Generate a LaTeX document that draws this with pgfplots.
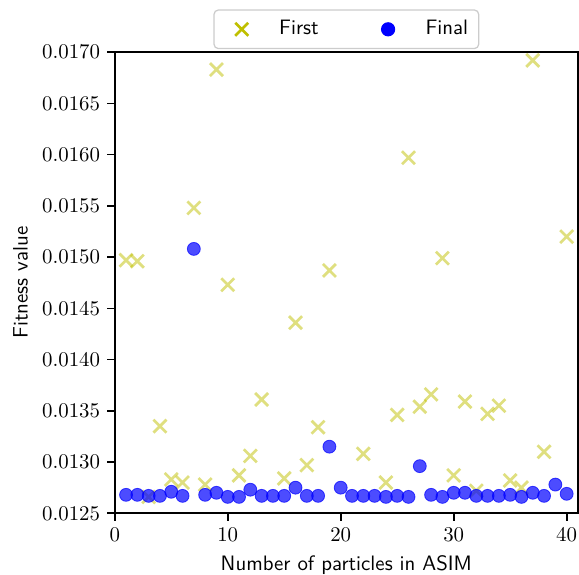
\documentclass[border=0pt]{standalone}
\usepackage{pgfplots}
\pgfplotsset{compat=1.18}

\definecolor{firstc}{rgb}{0.75,0.75,0}
\definecolor{finalc}{rgb}{0,0,1}

\begin{document}
\begin{tikzpicture}
  \begin{axis}[
    scale only axis,
    width=222pt, height=221pt,
    xmin=0, xmax=41,
    ymin=0.0125, ymax=0.0170,
    xtick={0,10,20,30,40},
    ytick={0.0125,0.0130,0.0135,0.0140,0.0145,0.0150,0.0155,0.0160,0.0165,0.0170},
    scaled y ticks=false,
    yticklabel style={/pgf/number format/.cd, fixed, fixed zerofill, precision=4},
    tick pos=left,
    tick align=outside,
    major tick length=3.5pt,
    axis line style={line width=0.8pt},
    every tick/.style={black, line width=0.8pt},
    xlabel={Number of particles in ASIM},
    ylabel={Fitness value},
    label style={font=\sffamily},
    legend columns=2,
    legend style={at={(0.5,1.0065)}, anchor=south, font=\sffamily,
      draw=black!20, line width=0.6pt, rounded corners=2pt, inner ysep=3pt,
      /tikz/every even column/.append style={column sep=21pt}},
    legend image code/.code={%
      \draw[#1,mark repeat=2,mark phase=2] plot coordinates {(0cm,0cm) (0.35cm,0cm) (0.7cm,0cm)};
      \path (0cm,0cm) (0.9cm,0cm);},
    legend image post style={opacity=1},
  ]
    \addplot[only marks, mark=x, mark size=4.4pt, color=firstc, opacity=0.5,
      mark options={line width=1.3pt}] coordinates {
      (1,0.01497) (2,0.01496) (3,0.01266) (4,0.01335) (5,0.01283)
      (6,0.01280) (7,0.01548) (8,0.01278) (9,0.01683) (10,0.01473)
      (11,0.01287) (12,0.01306) (13,0.01361) (15,0.01284) (16,0.01436)
      (17,0.01297) (18,0.01334) (19,0.01487) (22,0.01308) (24,0.01280)
      (25,0.01346) (26,0.01597) (27,0.01354) (28,0.01366) (29,0.01499)
      (30,0.01287) (31,0.01359) (32,0.01272) (33,0.01347) (34,0.01355)
      (35,0.01282) (36,0.01275) (37,0.01692) (38,0.01310) (40,0.01520)
    };
    \addlegendentry{First}
    \addplot[only marks, mark=*, mark size=3.1pt, color=finalc, opacity=0.7,
      mark options={draw=none, fill=finalc}] coordinates {
      (1,0.01268) (2,0.01268) (3,0.01267) (4,0.01267) (5,0.01271)
      (6,0.01267) (7,0.01508) (8,0.01268) (9,0.01270) (10,0.01266)
      (11,0.01266) (12,0.01273) (13,0.01267) (14,0.01267) (15,0.01267)
      (16,0.01275) (17,0.01267) (18,0.01267) (19,0.01315) (20,0.01275)
      (21,0.01267) (22,0.01267) (23,0.01267) (24,0.01266) (25,0.01267)
      (26,0.01266) (27,0.01296) (28,0.01268) (29,0.01266) (30,0.01270)
      (31,0.01270) (32,0.01267) (33,0.01267) (34,0.01267) (35,0.01268)
      (36,0.01266) (37,0.01270) (38,0.01267) (39,0.01278) (40,0.01269)
    };
    \addlegendentry{Final}
  \end{axis}
  \pgfresetboundingbox
  \path ([xshift=-55pt,yshift=-29.3pt]current axis.south west)
    rectangle ([xshift=0.5pt,yshift=25pt]current axis.north east);
\end{tikzpicture}
\end{document}
